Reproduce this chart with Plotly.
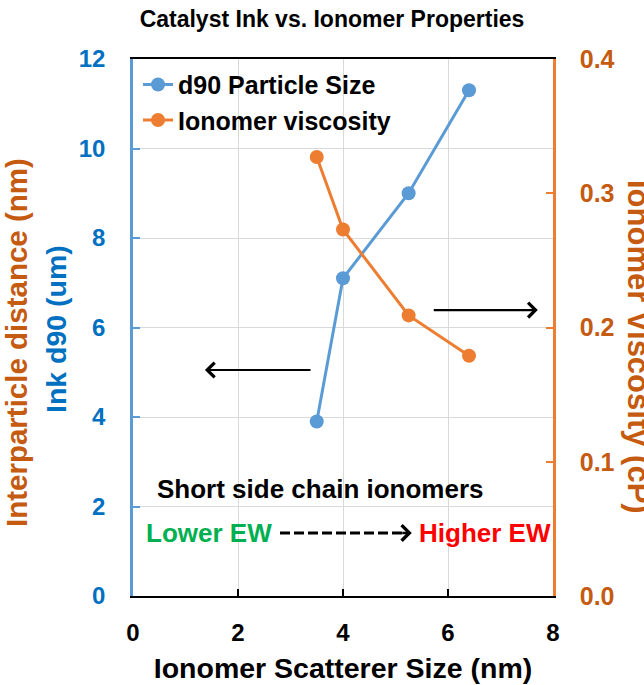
import plotly.graph_objects as go

# Ionomer scatterer size (nm) and the two measured properties
scatterer_size = [3.5, 4.0, 5.25, 6.4]
d90_um = [3.9, 7.1, 9.0, 11.3]
viscosity_cp = [0.327, 0.273, 0.209, 0.179]

x_ticks = [0, 2, 4, 6, 8]
y_ticks = [0, 2, 4, 6, 8, 10, 12]
y2_ticks = [0.0, 0.1, 0.2, 0.3, 0.4]

BLUE = "#5B9BD5"
BLUE_TXT = "#0070C0"
ORANGE = "#ED7D31"
ORANGE_TXT = "#C55A11"
FONT = "Liberation Sans"

fig = go.Figure()
fig.add_trace(go.Scatter(
    x=scatterer_size, y=d90_um, name="<b>d90 Particle Size</b>",
    mode="lines+markers", line=dict(color=BLUE, width=3),
    marker=dict(size=14, color=BLUE), legendgroup="a",
))
fig.add_trace(go.Scatter(
    x=scatterer_size, y=viscosity_cp, name="<b>Ionomer viscosity</b>",
    mode="lines+markers", line=dict(color=ORANGE, width=3),
    marker=dict(size=14, color=ORANGE), yaxis="y2", legendgroup="b",
))

tick_font = dict(family=FONT, size=24)

fig.update_layout(
    width=644, height=685,
    margin=dict(l=133, r=91, t=59, b=89, autoexpand=False),
    plot_bgcolor="white", paper_bgcolor="white",
    font=dict(family=FONT, size=24, color="black"),
    title=dict(text="<b>Catalyst Ink vs. Ionomer Properties</b>",
               x=332 / 644, xanchor="center", y=1 - 19 / 685, yanchor="middle",
               font=dict(family=FONT, size=23, color="black")),
    showlegend=True,
    legend=dict(x=0.012, y=0.995, xanchor="left", yanchor="top",
                bgcolor="rgba(255,255,255,0)", font=dict(family=FONT, size=25),
                itemwidth=30, traceorder="grouped", tracegroupgap=0),
    xaxis=dict(range=[0, 8], tickvals=x_ticks, automargin=False,
               ticktext=[f"<b>{v}</b>" for v in x_ticks],
               showgrid=True, gridcolor="#D9D9D9", gridwidth=1,
               showline=True, linecolor="black", linewidth=2, mirror=True,
               ticks="inside", ticklen=7, tickwidth=2, tickcolor="black",
               zeroline=False, tickfont=tick_font, ticklabelstandoff=14,
               title=dict(text="<b>Ionomer Scatterer Size (nm)</b>",
                          font=dict(family=FONT, size=28.5), standoff=13)),
    yaxis=dict(range=[0, 12], tickvals=y_ticks, automargin=False,
               ticktext=[f"<b>{v}</b>" for v in y_ticks],
               showgrid=True, gridcolor="#D9D9D9", gridwidth=1,
               showline=True, linecolor=BLUE, linewidth=2.5,
               ticks="inside", ticklen=7, tickwidth=2, tickcolor=BLUE,
               zeroline=False, tickfont=dict(family=FONT, size=24, color=BLUE_TXT),
               ticklabelstandoff=20),
    yaxis2=dict(range=[0, 0.4], tickvals=y2_ticks, automargin=False,
                ticktext=[f"<b>{v:.1f}</b>" for v in y2_ticks],
                overlaying="y", side="right", showgrid=False,
                showline=True, linecolor=ORANGE, linewidth=2.5,
                ticks="inside", ticklen=7, tickwidth=2, tickcolor=ORANGE,
                zeroline=False, tickfont=dict(family=FONT, size=25, color=ORANGE_TXT),
                ticklabelstandoff=19),
)

annotations = [
    # left-side stacked axis titles
    dict(text="<b>Interparticle distance (nm)</b>", xref="paper", yref="paper",
         x=(16 - 133) / 420, y=(596 - 343) / 537, xanchor="center", yanchor="middle",
         textangle=-90, showarrow=False,
         font=dict(family=FONT, size=29.5, color=ORANGE_TXT)),
    dict(text="<b>Ink d90 (um)</b>", xref="paper", yref="paper",
         x=(56 - 133) / 420, y=(596 - 329) / 537, xanchor="center", yanchor="middle",
         textangle=-90, showarrow=False,
         font=dict(family=FONT, size=28.5, color=BLUE_TXT)),
    # right axis title
    dict(text="<b>Ionomer Viscosity (cP)</b>", xref="paper", yref="paper",
         x=(639 - 133) / 420, y=(596 - 347) / 537, xanchor="center", yanchor="middle",
         textangle=90, showarrow=False,
         font=dict(family=FONT, size=31, color=ORANGE_TXT)),
    # direction arrows pointing to each series' axis
    dict(x=1.37, y=5.05, ax=3.41, ay=5.05, xref="x", yref="y", axref="x", ayref="y",
         text="", showarrow=True, arrowhead=4, arrowsize=1.3, arrowwidth=2.2,
         arrowcolor="black"),
    dict(x=7.71, y=6.39, ax=5.7, ay=6.39, xref="x", yref="y", axref="x", ayref="y",
         text="", showarrow=True, arrowhead=4, arrowsize=1.3, arrowwidth=2.2,
         arrowcolor="black"),
    # ionomer type notes
    dict(text="<b>Short side chain ionomers</b>", x=0.42, y=2.4, xref="x", yref="y",
         xanchor="left", yanchor="middle", showarrow=False,
         font=dict(family=FONT, size=26, color="black")),
    dict(text="<b>Lower EW</b>", x=0.2, y=1.41, xref="x", yref="y",
         xanchor="left", yanchor="middle", showarrow=False,
         font=dict(family=FONT, size=26, color="#00B050")),
    dict(x=5.31, y=1.41, ax=5.1, ay=1.41, xref="x", yref="y", axref="x", ayref="y",
         text="", showarrow=True, arrowhead=4, arrowsize=1.2, arrowwidth=2.5,
         arrowcolor="black"),
    dict(text="<b>Higher EW</b>", x=5.4, y=1.41, xref="x", yref="y",
         xanchor="left", yanchor="middle", showarrow=False,
         font=dict(family=FONT, size=26, color="#FF0000")),
]
fig.update_layout(annotations=annotations)

# dashed connector between the EW labels
fig.add_shape(type="line", xref="x", yref="y", x0=2.8, x1=5.22, y0=1.41, y1=1.41,
              line=dict(color="black", width=3, dash="10px,4px"))

fig.write_html("out.html")
